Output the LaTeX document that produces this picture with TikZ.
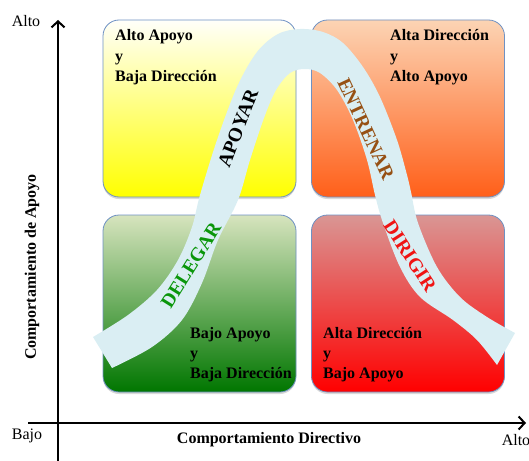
\documentclass[tikz,border=0pt]{standalone}
\usepackage{fontspec}
\setmainfont{Liberation Serif}
\usetikzlibrary{arrows.meta,shadows}
\definecolor{boxborder}{RGB}{110,145,195}
\definecolor{tlA}{RGB}{255,255,250}
\definecolor{tlB}{RGB}{255,255,0}
\definecolor{trA}{RGB}{252,212,180}
\definecolor{trB}{RGB}{255,95,25}
\definecolor{blA}{RGB}{215,228,190}
\definecolor{blB}{RGB}{0,118,0}
\definecolor{brA}{RGB}{217,150,148}
\definecolor{brB}{RGB}{255,0,0}
\definecolor{bandfill}{RGB}{218,238,243}
\definecolor{delcol}{RGB}{10,150,10}
\definecolor{entcol}{RGB}{150,80,20}
\definecolor{dircol}{RGB}{240,20,20}
\begin{document}
\begin{tikzpicture}[x=1pt,y=-1pt,
  quad/.style={draw=boxborder, line width=0.8pt, rounded corners=16pt,
    minimum width=193pt, minimum height=177pt, inner sep=0pt,
    drop shadow={shadow xshift=0pt, shadow yshift=-2pt, opacity=0.3}},
  lbl/.style={font=\fontsize{16}{18}\selectfont\bfseries, anchor=base west, inner sep=0pt},
  axlbl/.style={font=\fontsize{16}{18}\selectfont, inner sep=0pt},
  axtitle/.style={font=\fontsize{16}{18}\selectfont\bfseries, inner sep=0pt},
  bandtxt/.style={font=\fontsize{19.5}{20}\selectfont\bfseries, inner sep=0pt},
  axis/.style={line width=2pt, -{Straight Barb[length=6pt,width=13pt]}}
]
\useasboundingbox (0,0) rectangle (529,460);

% quadrants
\node[quad, top color=tlA, bottom color=tlB] (tl) at (199.5,108.5) {};
\node[quad, top color=trA, bottom color=trB] (tr) at (408,108.5) {};
\node[quad, top color=blA, bottom color=blB] (bl) at (199.5,303.5) {};
\node[quad, top color=brA, bottom color=brB] (br) at (408,303.5) {};

% band
\fill[bandfill]
  plot[smooth,tension=0.55] coordinates {(93,337) (128,315) (157,290) (178,260) (192,227) (200,195) (217,140) (237,87) (257,52) (278,34) (300,29) (323,32) (343,43) (363,67) (380,97) (397,140) (407,175) (411,192) (418,223) (437,267) (460,297) (487,317) (515,333)}
  -- plot[smooth,tension=0.55] coordinates {(497,365) (477,340) (453,320) (420,297) (400,267) (383,223) (375,195) (367,160) (353,120) (337,90) (320,73) (305,69) (290,73) (276,90) (264,118) (250,160) (238,200) (218,240) (202,283) (182,320) (152,347) (112,368)}
  -- cycle;

% band labels
\node[bandtxt, text=delcol, rotate=58] (delegar) at (191,265) {DELEGAR};
\node[bandtxt, text=black, rotate=69] (apoyar) at (238,128) {APOYAR};
\node[bandtxt, text=entcol, rotate=-65] (entrenar) at (366,129) {ENTRENAR};
\node[bandtxt, text=dircol, rotate=-57] (dirigir) at (410,256) {DIRIGIR};

% quadrant texts
\node[lbl] (tl1) at (115,41) {Alto Apoyo};
\node[lbl] (tl2) at (115,61) {y};
\node[lbl] (tl3) at (115,81) {Baja Dirección};
\node[lbl] (tr1) at (390,41) {Alta Dirección};
\node[lbl] (tr2) at (390,61) {y};
\node[lbl] (tr3) at (390,81) {Alto Apoyo};
\node[lbl] (bl1) at (190,338) {Bajo Apoyo};
\node[lbl] (bl2) at (190,358) {y};
\node[lbl] (bl3) at (190,378) {Baja Dirección};
\node[lbl] (br1) at (323,338) {Alta Dirección};
\node[lbl] (br2) at (323,358) {y};
\node[lbl] (br3) at (323,378) {Bajo Apoyo};

% axes
\coordinate (ybot) at (58,462);
\coordinate (ytop) at (58,20);
\coordinate (xleft) at (28,423);
\coordinate (xright) at (526,423);
\draw[axis] (ybot) -- (ytop);
\draw[axis] (xleft) -- (xright);

% axis labels
\node[axlbl] (altoy) at (26,21) {Alto};
\node[axlbl] (bajo) at (27,436) {Bajo};
\node[axlbl] (altox) at (516,440) {Alto};
\node[axtitle] (xtitle) at (269,440) {Comportamiento Directivo};
\node[axtitle, rotate=90] (ytitle) at (32,267) {Comportamiento de Apoyo};
\end{tikzpicture}
\end{document}
